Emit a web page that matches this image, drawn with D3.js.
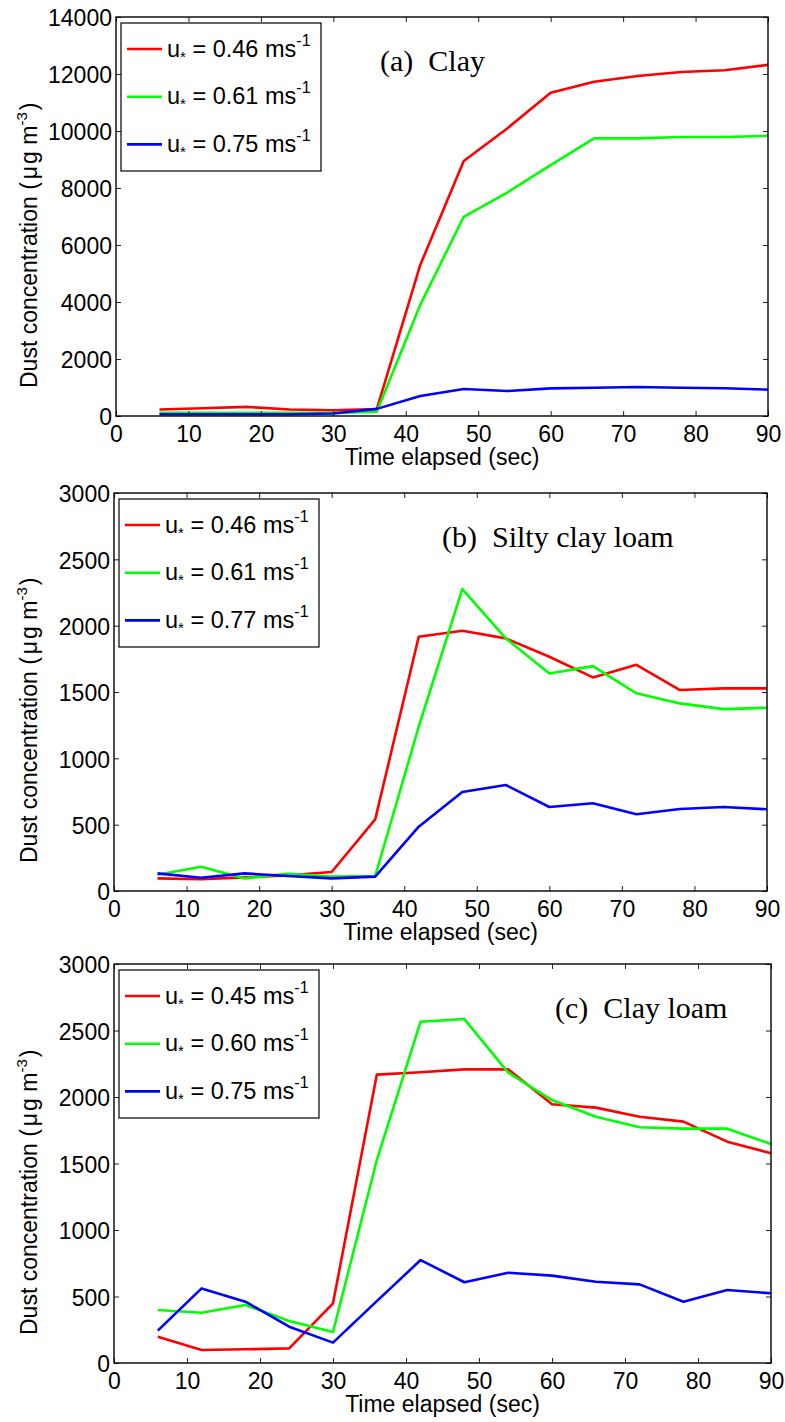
<!DOCTYPE html>
<html>
<head>
<meta charset="utf-8">
<script src="https://cdn.jsdelivr.net/npm/d3@7"></script>
<style>
  body { margin: 0; background: #fff; }
  svg { display: block; }
  text { font-family: "Liberation Sans", Arial, sans-serif; fill: #000; }
  .title { font-family: "Liberation Serif", "Times New Roman", serif; font-size: 30px; white-space: pre; }
</style>
</head>
<body>
<svg id="chart" width="785" height="1422"></svg>
<script>
// sampling times (sec)
const times = [6, 12, 18, 24, 30, 36, 42, 48, 54, 60, 66, 72, 78, 84, 90];
const xTicks = [0, 10, 20, 30, 40, 50, 60, 70, 80, 90];

// (a) Clay
const clayTicks = [0, 2000, 4000, 6000, 8000, 10000, 12000, 14000];
const clayLabels = ["0.46", "0.61", "0.75"];
const clayRed = [230, 270, 320, 230, 200, 240, 5300, 8950, 10090, 11340, 11730, 11930, 12070, 12130, 12320];
const clayGreen = [110, 110, 110, 110, 110, 150, 3900, 6990, 7840, 8800, 9740, 9740, 9790, 9790, 9830];
const clayBlue = [60, 60, 60, 60, 90, 250, 700, 945, 875, 970, 990, 1015, 990, 975, 925];

// (b) Silty clay loam
const siltTicks = [0, 500, 1000, 1500, 2000, 2500, 3000];
const siltLabels = ["0.46", "0.61", "0.77"];
const siltRed = [95, 88, 103, 118, 143, 540, 1917, 1962, 1904, 1766, 1610, 1705, 1515, 1527, 1527];
const siltGreen = [123, 183, 95, 130, 108, 113, 1238, 2276, 1904, 1640, 1695, 1490, 1414, 1371, 1381];
const siltBlue = [133, 100, 133, 113, 95, 108, 485, 746, 799, 633, 661, 578, 618, 633, 616];

// (c) Clay loam
const loamTicks = [0, 500, 1000, 1500, 2000, 2500, 3000];
const loamLabels = ["0.45", "0.60", "0.75"];
const loamRed = [198, 98, 103, 110, 449, 2168, 2186, 2208, 2208, 1945, 1920, 1852, 1815, 1664, 1577];
const loamGreen = [398, 378, 436, 316, 233, 1526, 2566, 2586, 2183, 1977, 1852, 1772, 1762, 1762, 1647];
const loamBlue = [243, 561, 461, 273, 153, 465, 774, 607, 679, 657, 611, 591, 461, 549, 524];

const colors = ["#ff0000", "#00ff00", "#0000ff"];

const panels = [
  { left: 116, right: 768, top: 17, bottom: 416, ticks: clayTicks, labels: clayLabels,
    series: [clayRed, clayGreen, clayBlue], title: "(a)  Clay", titleX: 380 },
  { left: 114, right: 767, top: 493, bottom: 891, ticks: siltTicks, labels: siltLabels,
    series: [siltRed, siltGreen, siltBlue], title: "(b)  Silty clay loam", titleX: 442 },
  { left: 114, right: 771, top: 964, bottom: 1363, ticks: loamTicks, labels: loamLabels,
    series: [loamRed, loamGreen, loamBlue], title: "(c)  Clay loam", titleX: 555 }
];

const svg = d3.select("#chart");

panels.forEach(p => {
  const x = d3.scaleLinear().domain([0, 90]).range([p.left, p.right]);
  const yMax = p.ticks[p.ticks.length - 1];
  const y = d3.scaleLinear().domain([0, yMax]).range([p.bottom, p.top]);
  const g = svg.append("g");

  // data lines
  const line = d3.line().x((d, i) => x(times[i])).y(d => y(d));
  p.series.forEach((s, k) => {
    g.append("path").datum(s)
      .attr("d", line)
      .attr("fill", "none")
      .attr("stroke", colors[k])
      .attr("stroke-width", 2.6)
      .attr("stroke-linejoin", "round");
  });

  // inward ticks on all sides
  const bottomAxis = g.append("g").attr("transform", `translate(0,${p.bottom})`)
    .call(d3.axisBottom(x).tickValues(xTicks).tickSizeInner(-5).tickSizeOuter(0).tickPadding(10));
  const topAxis = g.append("g").attr("transform", `translate(0,${p.top})`)
    .call(d3.axisTop(x).tickValues(xTicks).tickSizeInner(-5).tickSizeOuter(0).tickFormat(""));
  const leftAxis = g.append("g").attr("transform", `translate(${p.left},0)`)
    .call(d3.axisLeft(y).tickValues(p.ticks).tickSizeInner(-5).tickSizeOuter(0).tickPadding(4).tickFormat(d3.format("d")));
  const rightAxis = g.append("g").attr("transform", `translate(${p.right},0)`)
    .call(d3.axisRight(y).tickValues(p.ticks).tickSizeInner(-5).tickSizeOuter(0).tickFormat(""));

  [bottomAxis, topAxis, leftAxis, rightAxis].forEach(a => {
    a.select(".domain").remove();
    a.selectAll(".tick line").attr("stroke", "#222").attr("stroke-width", 1);
    a.selectAll("text").attr("font-size", 23).attr("font-family", null).attr("fill", "#000");
  });
  leftAxis.selectAll("text").attr("dy", "0.38em");

  // box
  g.append("rect")
    .attr("x", p.left).attr("y", p.top)
    .attr("width", p.right - p.left).attr("height", p.bottom - p.top)
    .attr("fill", "none").attr("stroke", "#000").attr("stroke-width", 1.4);

  // axis titles
  g.append("text")
    .attr("x", (p.left + p.right) / 2).attr("y", p.bottom + 48.5)
    .attr("text-anchor", "middle").attr("font-size", 23)
    .text("Time elapsed (sec)");

  const yl = g.append("text")
    .attr("transform", `translate(37,${p.bottom - 28}) rotate(-90)`)
    .attr("font-size", 23);
  yl.append("tspan").text("Dust concentration (");
  yl.append("tspan").attr("dx", 3).text("\u03bc");
  yl.append("tspan").attr("dx", 2).text("g m");
  yl.append("tspan").attr("font-size", 15).attr("dy", -10).text("-3");
  yl.append("tspan").attr("dy", 10).attr("dx", 2).text(")");

  // panel title
  g.append("text").attr("class", "title")
    .attr("x", p.titleX).attr("y", p.top + 53.5)
    .text(p.title);

  // legend
  const lx = p.left + 5, ly = p.top + 6;
  const lg = g.append("g").attr("transform", `translate(${lx},${ly})`);
  lg.append("rect").attr("width", 200).attr("height", 148)
    .attr("fill", "#fff").attr("stroke", "#000").attr("stroke-width", 1.2);
  p.labels.forEach((lab, k) => {
    const ry = 26 + k * 47.7;
    lg.append("line").attr("x1", 6).attr("x2", 41).attr("y1", ry).attr("y2", ry)
      .attr("stroke", colors[k]).attr("stroke-width", 2.6);
    const t = lg.append("text").attr("x", 46).attr("y", ry + 7.5).attr("font-size", 23.5);
    t.append("tspan").text("u");
    t.append("tspan").attr("font-size", 15).attr("dy", 5).text("*");
    t.append("tspan").attr("dy", -5).text(` = ${lab} ms`);
    t.append("tspan").attr("font-size", 16).attr("dy", -11).text("-1");
  });
});
</script>
</body>
</html>
